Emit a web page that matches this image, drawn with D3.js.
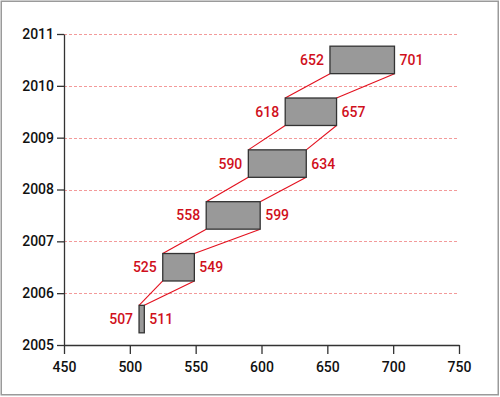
<!DOCTYPE html>
<html>
<head>
<meta charset="utf-8">
<script src="https://cdn.jsdelivr.net/npm/d3@7"></script>
<style>
  body { margin: 0; background: #fff; }
  svg { display: block; font-family: Roboto, "Liberation Sans", Arial, sans-serif; font-weight: 500; }
</style>
</head>
<body>
<svg id="chart" width="500" height="397"></svg>
<script>
// Bereiche pro Jahr: linke und rechte Grenze der Box
const years    = [2005, 2006, 2007, 2008, 2009, 2010];
const lowVals  = [507, 525, 558, 590, 618, 652];
const highVals = [511, 549, 599, 634, 657, 701];
const xTicks   = [450, 500, 550, 600, 650, 700, 750];
const yTicks   = [2005, 2006, 2007, 2008, 2009, 2010, 2011];

const data = years.map((year, i) => ({ year, low: lowVals[i], high: highVals[i] }));

const svg = d3.select("#chart");

// Rahmen
svg.append("rect")
  .attr("x", 1.25).attr("y", 1.25)
  .attr("width", 497).attr("height", 393.5)
  .attr("fill", "none")
  .attr("stroke", "#9a9a9a")
  .attr("stroke-width", 1.5);

const x = d3.scaleLinear().domain([450, 750]).range([64, 459]);
const y = d3.scaleLinear().domain([2005, 2011]).range([345, 34]);

const boxLo = 0.235, boxHi = 0.765;

// Gitterlinien (auf halbe Pixel gesetzt, damit sie scharf bleiben)
svg.append("g")
  .selectAll("line")
  .data(yTicks.slice(1))
  .join("line")
  .attr("x1", x(450)).attr("x2", x(750))
  .attr("y1", d => Math.round(y(d)) + 0.5).attr("y2", d => Math.round(y(d)) + 0.5)
  .attr("stroke", "#f39a9a")
  .attr("stroke-width", 1)
  .attr("stroke-dasharray", "3,2");

// Verbindungslinien zwischen den Boxen
const links = data.slice(1).flatMap((d, i) => {
  const prev = data[i];
  return [
    { x1: prev.low,  y1: prev.year + boxHi, x2: d.low,  y2: d.year + boxLo },
    { x1: prev.high, y1: prev.year + boxHi, x2: d.high, y2: d.year + boxLo }
  ];
});

svg.append("g")
  .selectAll("line")
  .data(links)
  .join("line")
  .attr("x1", d => x(d.x1)).attr("y1", d => y(d.y1))
  .attr("x2", d => x(d.x2)).attr("y2", d => y(d.y2))
  .attr("stroke", "#e3101e")
  .attr("stroke-width", 1.1);

// Boxen
svg.append("g")
  .selectAll("rect")
  .data(data)
  .join("rect")
  .attr("x", d => x(d.low))
  .attr("y", d => y(d.year + boxHi))
  .attr("width", d => x(d.high) - x(d.low))
  .attr("height", d => y(d.year + boxLo) - y(d.year + boxHi))
  .attr("fill", "#999999")
  .attr("stroke", "#333")
  .attr("stroke-width", 1.3);

// Beschriftungen
const labels = svg.append("g")
  .attr("fill", "#d0101c")
  .attr("font-size", 14);

labels.selectAll("text.lo")
  .data(data)
  .join("text")
  .attr("class", "lo")
  .attr("x", d => x(d.low) - 6)
  .attr("y", d => y(d.year + 0.5))
  .attr("dy", "0.36em")
  .attr("text-anchor", "end")
  .text(d => d.low);

labels.selectAll("text.hi")
  .data(data)
  .join("text")
  .attr("class", "hi")
  .attr("x", d => x(d.high) + 5)
  .attr("y", d => y(d.year + 0.5))
  .attr("dy", "0.36em")
  .attr("text-anchor", "start")
  .text(d => d.high);

// Achsen
const xAxisG = svg.append("g")
  .attr("transform", `translate(0,${y(2005)})`)
  .call(d3.axisBottom(x).tickValues(xTicks).tickFormat(d3.format("d")).tickSize(9).tickSizeOuter(0));

const yAxisG = svg.append("g")
  .attr("transform", `translate(${x(450)},0)`)
  .call(d3.axisLeft(y).tickValues(yTicks).tickFormat(d3.format("d")).tickSize(7).tickSizeOuter(0));

[xAxisG, yAxisG].forEach(a => {
  a.attr("font-family", null).attr("font-size", 14);
  a.selectAll("path, line").attr("stroke", "#333").attr("stroke-width", 1.3);
  a.selectAll("text").attr("fill", "#111");
});
xAxisG.selectAll("text").attr("dy", "1.05em");
yAxisG.selectAll("text").attr("x", -10);
</script>
</body>
</html>
